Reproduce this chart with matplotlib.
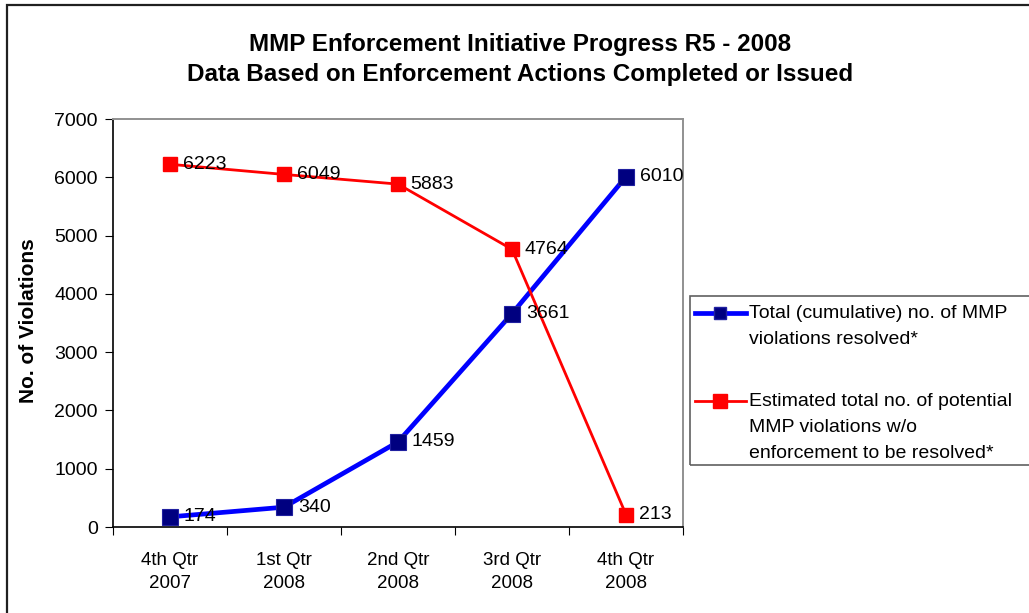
import matplotlib.pyplot as plt
from matplotlib.lines import Line2D
from matplotlib.patches import Rectangle

plt.rc('font', **{'family': ['Liberation Sans', 'DejaVu Sans']})

quarters = ['4th Qtr\n2007', '1st Qtr\n2008', '2nd Qtr\n2008', '3rd Qtr\n2008', '4th Qtr\n2008']
resolved = [174, 340, 1459, 3661, 6010]
remaining = [6223, 6049, 5883, 4764, 213]

resolved_label = 'Total (cumulative) no. of MMP\nviolations resolved*'
remaining_label = 'Estimated total no. of potential\nMMP violations w/o\nenforcement to be resolved*'

W, H = 1029, 613
fig = plt.figure(figsize=(W / 100, H / 100), dpi=100)
ax = fig.add_axes([113 / W, 1 - 527 / H, 570 / W, 408 / H])

x = list(range(len(quarters)))
ax.plot(x, resolved, color='#0000ff', lw=3.4, marker='s', ms=11.5,
        mfc='#000080', mec='#2020a0', mew=0.8, zorder=3)
ax.plot(x, remaining, color='#ff0000', lw=2, marker='s', ms=10.5,
        mfc='#ff0000', mec='#ff0000', zorder=3)

for xi, v in zip(x, resolved):
    ax.annotate(str(v), (xi, v), xytext=(10, 0), textcoords='offset points',
                ha='left', va='center', fontsize=14, zorder=4)
for xi, v in zip(x, remaining):
    ax.annotate(str(v), (xi, v), xytext=(9, 0), textcoords='offset points',
                ha='left', va='center', fontsize=14, zorder=4)

ax.set_xlim(-0.5, len(quarters) - 0.5)
ax.set_ylim(0, 7000)
ax.set_yticks(range(0, 7001, 1000))
ax.set_xticks([i + 0.5 for i in range(-1, len(quarters))], minor=False)
ax.set_xticklabels([])
ax.set_xticks(x, minor=True)
ax.set_xticklabels(quarters, minor=True, fontsize=13.5, linespacing=1.5)
ax.tick_params(axis='x', which='minor', length=0, pad=18)
ax.tick_params(axis='x', which='major', length=6, direction='out', color='black')
ax.tick_params(axis='y', length=6, direction='out', labelsize=14, pad=5)

for s in ['top', 'right']:
    ax.spines[s].set_color('#909090')
    ax.spines[s].set_linewidth(1.4)
for s in ['left', 'bottom']:
    ax.spines[s].set_color('black')
    ax.spines[s].set_linewidth(1.2)

ax.set_ylabel('No. of Violations', fontsize=15, fontweight='bold', labelpad=12)
ax.yaxis.set_label_coords(-75 / 570, 0.505)

fig.text(520 / W, 1 - 44 / H, 'MMP Enforcement Initiative Progress R5 - 2008',
         ha='center', va='center', fontsize=17.5, fontweight='bold')
fig.text(520 / W, 1 - 75 / H, 'Data Based on Enforcement Actions Completed or Issued',
         ha='center', va='center', fontsize=17.5, fontweight='bold')

# outer chart border
fig.patches.append(Rectangle((7 / W, -0.1), 1.2, 1.1 - 5 / H, transform=fig.transFigure,
                             fill=False, ec='#202020', lw=1.6))

# legend drawn by hand to keep the Excel layout
fig.patches.append(Rectangle((690 / W, 1 - 465 / H), 0.5, 169 / H, transform=fig.transFigure,
                             fill=False, ec='#606060', lw=1.2))
fig.lines.append(Line2D([695 / W, 746 / W], [1 - 313 / H] * 2, transform=fig.transFigure,
                        color='#0000ff', lw=3.4))
fig.lines.append(Line2D([720 / W], [1 - 313 / H], transform=fig.transFigure, marker='s',
                        ms=8, mfc='#000080', mec='#2020a0', lw=0))
fig.lines.append(Line2D([695 / W, 746 / W], [1 - 401 / H] * 2, transform=fig.transFigure,
                        color='#ff0000', lw=2))
fig.lines.append(Line2D([720 / W], [1 - 401 / H], transform=fig.transFigure, marker='s',
                        ms=9.5, mfc='#ff0000', mec='#ff0000', lw=0))
fig.text(749 / W, 1 - 305 / H, resolved_label, ha='left', va='top', fontsize=14,
         linespacing=1.68)
fig.text(749 / W, 1 - 393 / H, remaining_label, ha='left', va='top', fontsize=14,
         linespacing=1.68)

plt.savefig('out.png', dpi=100)
